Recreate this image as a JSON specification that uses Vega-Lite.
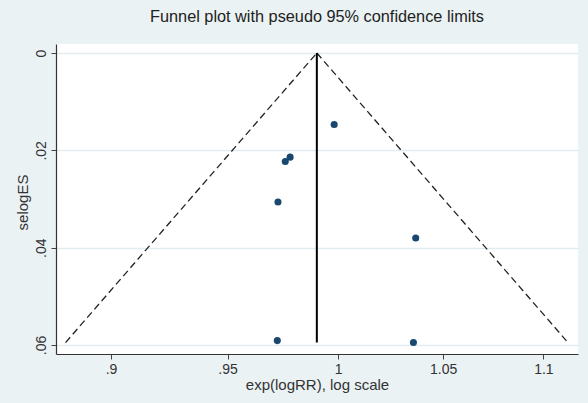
{
  "$schema": "https://vega.github.io/schema/vega-lite/v6.json",
  "width": 522,
  "height": 310,
  "autosize": "none",
  "padding": {"left": 56, "top": 44, "right": 10, "bottom": 49},
  "background": "#eaf2f3",
  "title": {
    "text": "Funnel plot with pseudo 95% confidence limits",
    "anchor": "middle",
    "font": "Liberation Sans",
    "fontSize": 16.3,
    "fontWeight": "normal",
    "color": "#222222",
    "baseline": "alphabetic",
    "offset": 6
  },
  "config": {
    "view": {"fill": "white", "stroke": null},
    "axis": {
      "labelFont": "Liberation Sans",
      "titleFont": "Liberation Sans",
      "labelColor": "#333333",
      "titleColor": "#333333",
      "titleFontWeight": "normal",
      "domainColor": "#333333",
      "tickColor": "#444444",
      "domainWidth": 1.2,
      "tickWidth": 1
    }
  },
  "datasets": {
    "studies": [
      {"rr": 0.9982, "se": 0.0147},
      {"rr": 0.9780, "se": 0.0214},
      {"rr": 0.9758, "se": 0.0223},
      {"rr": 0.9725, "se": 0.0306},
      {"rr": 1.0367, "se": 0.0380},
      {"rr": 0.9722, "se": 0.0591},
      {"rr": 1.0356, "se": 0.0595}
    ],
    "funnel": [
      {"side": "lower", "rr": 0.9902, "se": 0},
      {"side": "lower", "rr": 0.8812, "se": 0.0595},
      {"side": "upper", "rr": 0.9902, "se": 0},
      {"side": "upper", "rr": 1.1126, "se": 0.0595}
    ],
    "pooled": [
      {"rr": 0.9902, "se": 0, "se2": 0.0595}
    ]
  },
  "encoding": {
    "x": {
      "field": "rr",
      "type": "quantitative",
      "title": "exp(logRR), log scale",
      "scale": {"type": "log", "domain": [0.8773, 1.1178], "nice": false, "zero": false},
      "axis": {
        "values": [0.9, 0.95, 1, 1.05, 1.1],
        "labelExpr": "datum.value < 1 ? replace(format(datum.value, '.2~f'), '0.', '.') : format(datum.value, '.2~f')",
        "grid": false,
        "tickSize": 5,
        "labelPadding": 3,
        "labelFontSize": 14,
        "titleFontSize": 15,
        "titleBaseline": "alphabetic",
        "titleY": 35,
        "titleAnchor": "middle"
      }
    },
    "y": {
      "field": "se",
      "type": "quantitative",
      "title": "selogES",
      "scale": {"domain": [-0.00185, 0.06185], "reverse": true, "nice": false, "zero": false},
      "axis": {
        "values": [0, 0.02, 0.04, 0.06],
        "labelExpr": "datum.value == 0 ? '0' : replace(format(datum.value, '.2f'), '0.', '.')",
        "labelAngle": -90,
        "labelAlign": "center",
        "labelBaseline": "alphabetic",
        "labelPadding": 6,
        "tickSize": 5,
        "labelFontSize": 14,
        "grid": true,
        "gridColor": "#e1ecee",
        "gridWidth": 1.3,
        "titleFontSize": 15,
        "titleAngle": -90,
        "titleX": -34,
        "titleY": 158,
        "titleAlign": "center",
        "titleBaseline": "middle"
      }
    }
  },
  "layer": [
    {
      "data": {"name": "funnel"},
      "mark": {"type": "line", "color": "#222222", "strokeWidth": 1.3, "strokeDash": [7, 4]},
      "encoding": {"detail": {"field": "side"}}
    },
    {
      "data": {"name": "pooled"},
      "mark": {"type": "rule", "color": "#000000", "strokeWidth": 2},
      "encoding": {"y2": {"field": "se2"}}
    },
    {
      "data": {"name": "studies"},
      "mark": {"type": "point", "filled": true, "color": "#1a476f", "opacity": 1, "size": 50},
      "encoding": {}
    }
  ]
}
